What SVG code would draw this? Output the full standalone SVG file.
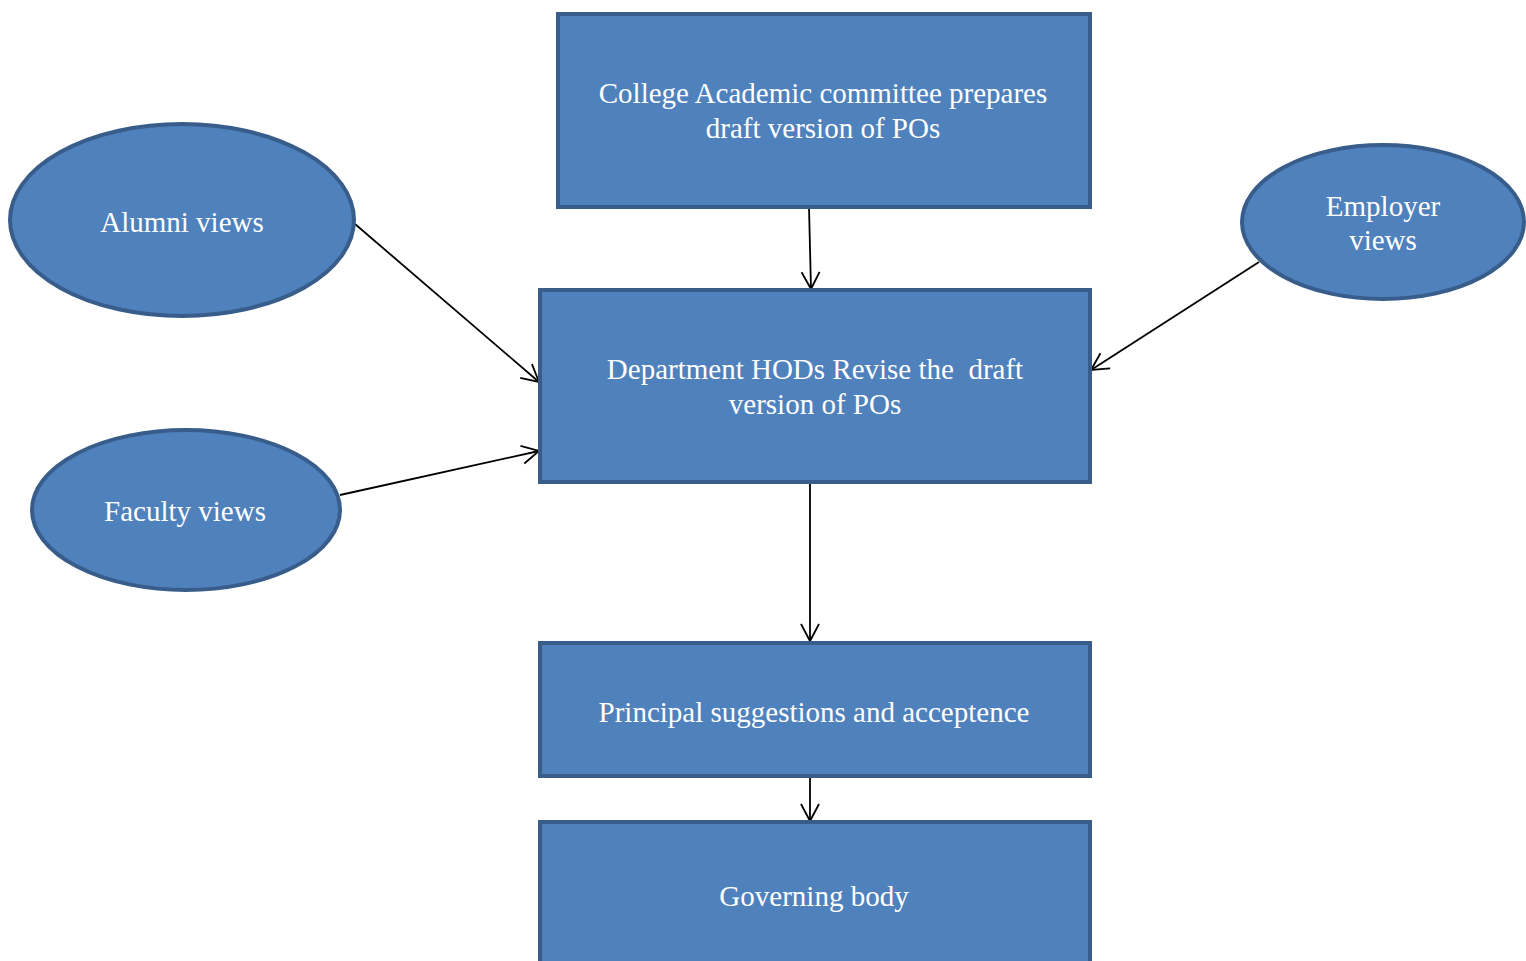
<svg xmlns="http://www.w3.org/2000/svg" width="1526" height="961" viewBox="0 0 1526 961">
<defs>
<marker id="arr" markerUnits="userSpaceOnUse" markerWidth="40" markerHeight="40" viewBox="-20 -20 40 40" refX="0" refY="0" orient="auto">
<path d="M-17,-9 L0,0 L-17,9" fill="none" stroke="#000" stroke-width="1.8"/>
</marker>
</defs>
<style>
.n{fill:#4F81BD;stroke:#385D8A;stroke-width:4}
.t{font-family:"Liberation Serif","Times New Roman",serif;font-size:29px;fill:#fff;text-anchor:middle;white-space:pre}
.c{stroke:#000;stroke-width:1.8;fill:none;marker-end:url(#arr)}
</style>
<rect width="1526" height="961" fill="#fff"/>
<g id="connectors">
<line class="c" x1="809" y1="207" x2="811" y2="289"/>
<line class="c" x1="355" y1="224" x2="539" y2="382"/>
<line class="c" x1="340" y1="495" x2="539" y2="451"/>
<line class="c" x1="1259" y1="262" x2="1091" y2="370"/>
<line class="c" x1="810" y1="482" x2="810" y2="641"/>
<line class="c" x1="810" y1="776" x2="810" y2="821"/>
</g>
<g id="n-college">
<rect class="n" x="558" y="14" width="532" height="193"/>
<text class="t" x="823" y="103">College Academic committee prepares</text>
<text class="t" x="823" y="138">draft version of POs</text>
</g>
<g id="n-hods">
<rect class="n" x="540" y="290" width="550" height="192"/>
<text class="t" x="815" y="379" xml:space="preserve">Department HODs Revise the  draft</text>
<text class="t" x="815" y="414">version of POs</text>
</g>
<g id="n-principal">
<rect class="n" x="540" y="643" width="550" height="133"/>
<text class="t" x="814" y="722">Principal suggestions and acceptence</text>
</g>
<g id="n-governing">
<rect class="n" x="540" y="822" width="550" height="150"/>
<text class="t" x="814" y="906">Governing body</text>
</g>
<g id="n-alumni">
<ellipse class="n" cx="182" cy="220" rx="172" ry="96"/>
<text class="t" x="182" y="232">Alumni views</text>
</g>
<g id="n-faculty">
<ellipse class="n" cx="186" cy="510" rx="154" ry="80"/>
<text class="t" x="185" y="521">Faculty views</text>
</g>
<g id="n-employer">
<ellipse class="n" cx="1383" cy="222" rx="141" ry="77"/>
<text class="t" x="1383" y="216">Employer</text>
<text class="t" x="1383" y="250">views</text>
</g>
</svg>
